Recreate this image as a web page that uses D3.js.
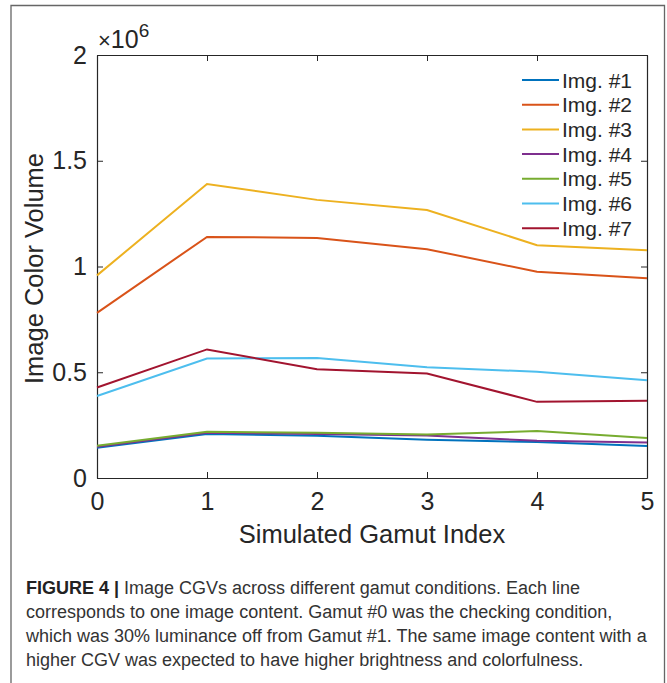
<!DOCTYPE html>
<html>
<head>
<meta charset="utf-8">
<script src="https://cdn.jsdelivr.net/npm/d3@7"></script>
<style>
  body { margin: 0; background: #fff; }
  svg text { font-family: "Liberation Sans", Arial, sans-serif; fill: #262626; }
  .caption { font-family: "Liberation Sans Narrow", "Liberation Sans", sans-serif; fill: #333; }
</style>
</head>
<body>
<svg id="chart"></svg>
<script>
var w = 667;
var h = 683;

// data (values in millions)
var gamutIdx = [0, 1, 2, 3, 4, 5];
var seriesNames = ["Img. #1", "Img. #2", "Img. #3", "Img. #4", "Img. #5", "Img. #6", "Img. #7"];
var img1 = [0.143, 0.208, 0.200, 0.181, 0.170, 0.151];
var img2 = [0.781, 1.140, 1.135, 1.082, 0.975, 0.945];
var img3 = [0.958, 1.390, 1.315, 1.267, 1.101, 1.077];
var img4 = [0.148, 0.214, 0.208, 0.201, 0.176, 0.168];
var img5 = [0.152, 0.219, 0.214, 0.206, 0.222, 0.189];
var img6 = [0.388, 0.565, 0.567, 0.524, 0.502, 0.462];
var img7 = [0.428, 0.608, 0.514, 0.494, 0.360, 0.365];
var yTicks = [0, 0.5, 1, 1.5, 2];
var yTickLabels = ["0", "0.5", "1", "1.5", "2"];
var colors = ["#0072BD", "#D95319", "#EDB120", "#7E2F8E", "#77AC30", "#4DBEEE", "#A2142F"];
var captionLines = [
  "Image CGVs across different gamut conditions. Each line",
  "corresponds to one image content. Gamut #0 was the checking condition,",
  "which was 30% luminance off from Gamut #1. The same image content with a",
  "higher CGV was expected to have higher brightness and colorfulness."
];

var allSeries = [img1, img2, img3, img4, img5, img6, img7];

var plotL = 97, plotR = 647, plotT = 55, plotB = 478;

var svg = d3.select("#chart")
    .attr("width", w)
    .attr("height", h);

// figure frame
svg.append("path")
    .attr("d", "M11,690 L11,5.5 L664.5,5.5 L664.5,690")
    .attr("fill", "none")
    .attr("stroke", "#666")
    .attr("stroke-width", 1.3);

var x = d3.scaleLinear().domain([0, 5]).range([plotL, plotR]);
var y = d3.scaleLinear().domain([0, 2]).range([plotB, plotT]);

var axisColor = "#262626";

// bottom axis
var gx = svg.append("g")
    .attr("transform", "translate(0," + plotB + ")")
    .call(d3.axisBottom(x).tickValues(gamutIdx).tickSizeInner(-6).tickSizeOuter(0).tickPadding(12)
        .tickFormat(d3.format("d")));
// top axis (ticks only)
var gxt = svg.append("g")
    .attr("transform", "translate(0," + plotT + ")")
    .call(d3.axisTop(x).tickValues(gamutIdx).tickSizeInner(-6).tickSizeOuter(0).tickFormat(""));
// left axis
var gy = svg.append("g")
    .attr("transform", "translate(" + plotL + ",0)")
    .call(d3.axisLeft(y).tickValues(yTicks).tickSizeInner(-6).tickSizeOuter(0).tickPadding(10)
        .tickFormat(function(d, i) { return yTickLabels[i]; }));
// right axis (ticks only)
var gyr = svg.append("g")
    .attr("transform", "translate(" + plotR + ",0)")
    .call(d3.axisRight(y).tickValues(yTicks).tickSizeInner(-6).tickSizeOuter(0).tickFormat(""));

[gx, gxt, gy, gyr].forEach(function(g) {
  g.select(".domain").attr("stroke", axisColor).attr("stroke-width", 1.2);
  g.selectAll(".tick line").attr("stroke", axisColor).attr("stroke-width", 1);
  g.selectAll(".tick text")
      .attr("fill", axisColor)
      .style("font-family", "Liberation Sans, Arial, sans-serif")
      .style("font-size", "25px");
});
gx.selectAll(".tick text").attr("dy", "0.8em");

// exponent label
var expo = svg.append("text")
    .attr("x", plotL + 1)
    .attr("y", plotT - 7)
    .style("font-size", "25px");
expo.append("tspan").text("\u00d7").style("font-size", "22px");
expo.append("tspan").text("10");
expo.append("tspan").text("6").attr("dy", -11).style("font-size", "19px");

// axis titles
svg.append("text")
    .attr("x", (plotL + plotR) / 2)
    .attr("y", 543)
    .attr("text-anchor", "middle")
    .style("font-size", "25.5px")
    .text("Simulated Gamut Index");

svg.append("text")
    .attr("transform", "translate(43," + ((plotT + plotB) / 2 + 2) + ") rotate(-90)")
    .attr("text-anchor", "middle")
    .style("font-size", "25.5px")
    .text("Image Color Volume");

// lines
var line = d3.line()
    .x(function(d, i) { return x(gamutIdx[i]); })
    .y(function(d) { return y(d); });

svg.append("g").selectAll("path")
    .data(allSeries)
    .enter().append("path")
    .attr("d", line)
    .attr("fill", "none")
    .attr("stroke", function(d, i) { return colors[i]; })
    .attr("stroke-width", 2);

// legend
var legend = svg.append("g");
var legendRow = 24.7;
seriesNames.forEach(function(name, i) {
  var ly = 80 + i * legendRow;
  legend.append("line")
      .attr("x1", 522).attr("x2", 559)
      .attr("y1", ly).attr("y2", ly)
      .attr("stroke", colors[i])
      .attr("stroke-width", 2);
  legend.append("text")
      .attr("x", 562)
      .attr("y", ly)
      .attr("dy", "0.36em")
      .style("font-size", "21px")
      .text(name);
});

// caption
var cap = svg.append("g");
var capY = 594, capStep = 24;
var c0 = cap.append("text")
    .attr("class", "caption")
    .attr("x", 26)
    .attr("y", capY)
    .style("font-size", "18px");
c0.append("tspan").text("FIGURE 4").style("font-weight", "bold").attr("fill", "#222");
c0.append("tspan").text(" | ").style("font-weight", "bold").attr("fill", "#222");
c0.append("tspan").text(captionLines[0]);
captionLines.slice(1).forEach(function(t, i) {
  cap.append("text")
      .attr("class", "caption")
      .attr("x", 26)
      .attr("y", capY + (i + 1) * capStep)
      .style("font-size", "18px")
      .text(t);
});
</script>
</body>
</html>
